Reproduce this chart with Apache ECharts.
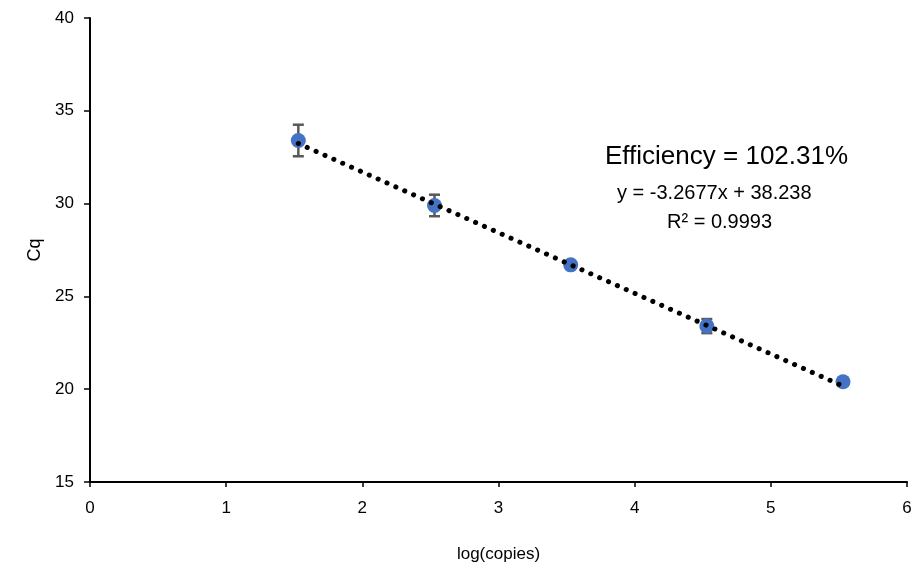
<!DOCTYPE html>
<html>
<head>
<meta charset="utf-8">
<script src="https://cdn.jsdelivr.net/npm/echarts@6/dist/echarts.min.js"></script>
<style>
  html, body { margin: 0; padding: 0; background: #fff; }
  #chart { width: 915px; height: 573px; }
</style>
</head>
<body>
<div id="chart"></div>
<script>
// log(copies) and mean Cq with error
var logCopies = [1.53, 2.53, 3.53, 4.53, 5.53]
var cqMean = [33.4, 29.9, 26.7, 23.4, 20.4]
var cqErr = [0.85, 0.58, 0.1, 0.38, 0.22]

// trendline as printed on chart
var slope = -3.2677
var intercept = 38.238
var labels = ['Efficiency = 102.31%', 'y = -3.2677x + 38.238', 'R\u00b2 = 0.9993']

var font = 'Liberation Sans, Arial, sans-serif'

var points = logCopies.map(function (x, i) { return [x, cqMean[i]] })
var errBars = logCopies.map(function (x, i) { return [x, cqMean[i] - cqErr[i], cqMean[i] + cqErr[i]] })
var x0 = logCopies[0]
var x1 = logCopies[logCopies.length - 1]
var trend = [[x0, slope * x0 + intercept], [x1, slope * x1 + intercept]]

var chart = echarts.init(document.getElementById('chart'))

chart.setOption({
  animation: false,
  grid: { left: 90, right: 8, top: 18, bottom: 91 },
  xAxis: {
    type: 'value',
    min: 0,
    max: 6,
    interval: 1,
    name: 'log(copies)',
    nameLocation: 'middle',
    nameGap: 64,
    nameTextStyle: { color: '#000', fontSize: 17, fontFamily: font },
    axisLine: { lineStyle: { color: '#000', width: 2 } },
    axisTick: { show: true, length: 5, lineStyle: { color: '#000', width: 1.5 } },
    axisLabel: { color: '#000', fontSize: 17, fontFamily: font, margin: 18 },
    splitLine: { show: false }
  },
  yAxis: {
    type: 'value',
    min: 15,
    max: 40,
    interval: 5,
    name: 'Cq',
    nameLocation: 'middle',
    nameGap: 45,
    nameTextStyle: { color: '#000', fontSize: 18, fontFamily: font },
    axisLine: { show: true, lineStyle: { color: '#000', width: 2 } },
    axisTick: { show: true, length: 6, lineStyle: { color: '#000', width: 1.5 } },
    axisLabel: { color: '#000', fontSize: 17, fontFamily: font, margin: 16 },
    splitLine: { show: false }
  },
  series: [
    {
      type: 'custom',
      data: errBars,
      z: 2,
      renderItem: function (params, api) {
        var x = api.value(0)
        var lo = api.coord([x, api.value(1)])
        var hi = api.coord([x, api.value(2)])
        var w = 5.5
        var style = { stroke: '#595959', lineWidth: 2.5 }
        return {
          type: 'group',
          children: [
            { type: 'line', shape: { x1: lo[0], y1: lo[1], x2: hi[0], y2: hi[1] }, style: style },
            { type: 'line', shape: { x1: lo[0] - w, y1: lo[1], x2: lo[0] + w, y2: lo[1] }, style: style },
            { type: 'line', shape: { x1: hi[0] - w, y1: hi[1], x2: hi[0] + w, y2: hi[1] }, style: style }
          ]
        }
      }
    },
    {
      type: 'scatter',
      data: points,
      symbolSize: 15,
      itemStyle: { color: '#4472C4', opacity: 1 },
      z: 3
    },
    {
      type: 'line',
      data: trend,
      symbol: 'none',
      z: 4,
      lineStyle: { color: '#000', width: 5, type: [0.1, 9.6], cap: 'round' }
    }
  ],
  graphic: [
    {
      type: 'text',
      left: 605,
      top: 144,
      style: { text: labels[0], fontSize: 26, fontFamily: font, fill: '#000' }
    },
    {
      type: 'text',
      left: 617,
      top: 183,
      style: { text: labels[1], fontSize: 20, fontFamily: font, fill: '#000' }
    },
    {
      type: 'text',
      left: 667,
      top: 212,
      style: { text: labels[2], fontSize: 20, fontFamily: font, fill: '#000' }
    }
  ]
})
</script>
</body>
</html>
